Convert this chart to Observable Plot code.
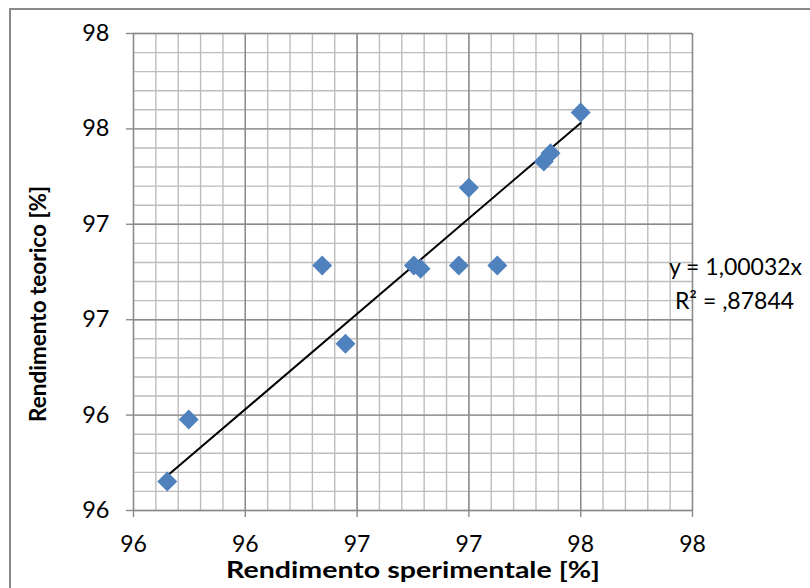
<!DOCTYPE html>
<html>
<head>
<meta charset="utf-8">
<script src="https://cdn.jsdelivr.net/npm/d3@7"></script>
<script src="https://cdn.jsdelivr.net/npm/@observablehq/plot@0.6"></script>
<style>
  html, body { margin: 0; padding: 0; background: #fff; overflow: hidden; }
  #wrap { position: relative; width: 810px; height: 588px; }
  #frame { position: absolute; left: 9px; top: 8px; width: 900px; height: 700px;
           border: 2px solid #8a8a8a; box-sizing: border-box; }
  #chart { position: absolute; left: 0; top: 0; }
</style>
</head>
<body>
<div id="wrap"><div id="frame"></div><div id="chart"></div></div>
<script>
// Data
const sperimentale = [95.651, 95.747, 96.448, 96.344, 96.754, 96.784, 96.955, 97.127, 97.000, 97.335, 97.365, 97.500];
const teorico      = [95.652, 95.977, 96.374, 96.784, 96.784, 96.767, 96.784, 96.784, 97.191, 97.329, 97.373, 97.586];
const trendSlope = 1.00032;
const eqLines = ["y = 1,00032x", "R² = ,87844"];

// Axis ticks and their (rounded, as displayed) labels
const axisDomain = [95.5, 98];
const majorTicks = [95.5, 96, 96.5, 97, 97.5, 98];
const tickLabels = ["96", "96", "97", "97", "98", "98"];
const minorTicks = d3.range(0, 26).map(i => +(95.5 + i * 0.1).toFixed(1));

const xTitle = "Rendimento sperimentale [%]";
const yTitle = "Rendimento teorico [%]";

const points = sperimentale.map((x, i) => ({x, y: teorico[i]}));
const xMin = d3.min(sperimentale), xMax = d3.max(sperimentale);
const trend = [xMin, xMax].map(x => ({x, y: trendSlope * x}));

const fmt = d => tickLabels[majorTicks.indexOf(d)];

const chart = Plot.plot({
  width: 810,
  height: 588,
  marginLeft: 133,
  marginRight: 118,
  marginTop: 33,
  marginBottom: 78,
  style: {fontFamily: "Lato, sans-serif", fontSize: "23px", color: "black", background: "transparent", overflow: "visible"},
  x: {domain: axisDomain},
  y: {domain: axisDomain},
  marks: [
    Plot.ruleX(minorTicks, {stroke: "#bdbdbd", strokeWidth: 1.4}),
    Plot.ruleY(minorTicks, {stroke: "#bdbdbd", strokeWidth: 1.4}),
    Plot.ruleX(majorTicks, {stroke: "#8a8a8a", strokeWidth: 1.4}),
    Plot.ruleY(majorTicks, {stroke: "#8a8a8a", strokeWidth: 1.4}),
    Plot.axisX({ticks: majorTicks, tickFormat: fmt, tickSize: 7, tickPadding: 18, stroke: "#8a8a8a", fill: "black", strokeWidth: 1.4, label: null, fontSize: 23}),
    Plot.axisY({ticks: majorTicks, tickFormat: fmt, tickSize: 7, tickPadding: 17, stroke: "#8a8a8a", fill: "black", strokeWidth: 1.4, label: null, fontSize: 23.5}),
    Plot.line(trend, {x: "x", y: "y", stroke: "black", strokeWidth: 2}),
    Plot.dot(points, {x: "x", y: "y", symbol: "diamond2", r: 9, fill: "#4f81bd", stroke: "none"}),
    Plot.text([eqLines[0]], {frameAnchor: "right", dx: 43, dy: -4, textAnchor: "middle", lineAnchor: "middle", fontSize: 23, fill: "black"}),
    Plot.text([eqLines[1]], {frameAnchor: "right", dx: 42, dy: 30, textAnchor: "middle", lineAnchor: "middle", fontSize: 23, fill: "black"}),
    Plot.text([xTitle], {frameAnchor: "bottom", dy: 60, lineAnchor: "middle", textAnchor: "middle", fontSize: 22, fontWeight: "bold", fill: "black", className: "xtitle"}),
    Plot.text([yTitle], {frameAnchor: "left", dx: -95, dy: 32, rotate: -90, textAnchor: "middle", lineAnchor: "middle", fontSize: 22.5, fontWeight: "bold", fill: "black"})
  ]
});
// the reference's horizontal axis title is stretched horizontally
d3.select(chart).selectAll("g.xtitle text")
  .attr("textLength", 374).attr("lengthAdjust", "spacingAndGlyphs");
document.getElementById("chart").appendChild(chart);
</script>
</body>
</html>
